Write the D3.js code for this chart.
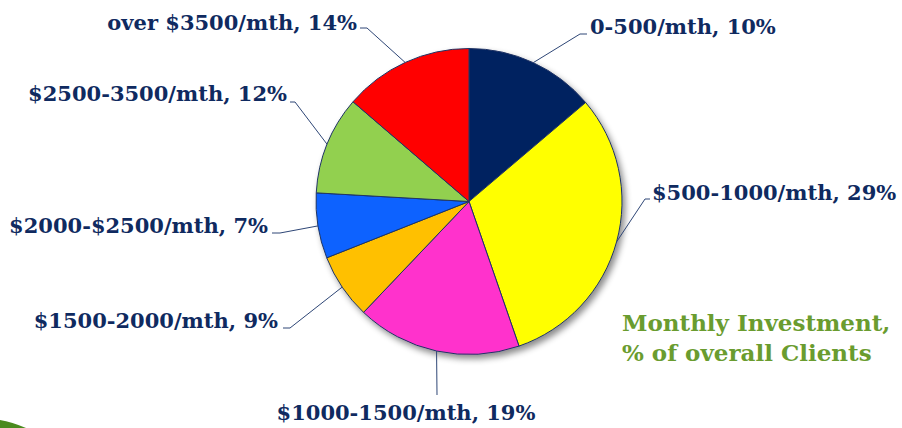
<!DOCTYPE html>
<html>
<head>
<meta charset="utf-8">
<script src="https://cdn.jsdelivr.net/npm/d3@7"></script>
<style>
  html, body { margin: 0; padding: 0; background: #ffffff; }
  svg { display: block; }
</style>
</head>
<body>
<script>
// ---- data ----
const categories = ["0-500/mth", "$500-1000/mth", "$1000-1500/mth", "$1500-2000/mth",
                    "$2000-$2500/mth", "$2500-3500/mth", "over $3500/mth"];
const sliceValues = [13.8, 30.9, 17.4, 6.9, 6.9, 10.4, 13.7];   // drawn slice sizes
const labelPercents = [10, 29, 19, 9, 7, 12, 14];                // percentages printed in labels
const sliceColors = ["#002060", "#FFFF00", "#FF33CC", "#FFC000", "#0862FF", "#92D050", "#FF0000"];
const titleLines = ["Monthly Investment,", "% of overall Clients"];

// ---- layout (label anchors and leader knees) ----
const labelLayout = [
  { x: 590, y: 34,  anchor: "start",  knee: [580, 34],  end: [587, 34] },
  { x: 652, y: 200, anchor: "start",  knee: [645, 199], end: [650, 199] },
  { x: 406, y: 420, anchor: "middle", knee: null,       end: [437, 395] },
  { x: 278, y: 328, anchor: "end",    knee: [290, 328], end: [283, 328] },
  { x: 268, y: 233, anchor: "end",    knee: [280, 233], end: [272, 233] },
  { x: 287, y: 101, anchor: "end",    knee: [295, 102], end: [290, 102] },
  { x: 357, y: 30,  anchor: "end",    knee: [367, 28],  end: [360, 28] }
];

const W = 902, H = 428;
const cx = 469, cy = 201.5, R = 153;

const svg = d3.select("body").append("svg").attr("width", W).attr("height", H);

const defs = svg.append("defs");
const f = defs.append("filter").attr("id", "shadow")
  .attr("x", "-20%").attr("y", "-20%").attr("width", "140%").attr("height", "140%");
f.append("feDropShadow").attr("dx", 3).attr("dy", 4).attr("stdDeviation", 3)
  .attr("flood-color", "#000").attr("flood-opacity", 0.45);

// green decoration bottom-left
svg.append("path")
  .attr("d", "M0,420 Q12,422 26,428 L0,428 Z")
  .attr("fill", "#4a8a1e");

const pie = d3.pie().sort(null).value(d => d);
const arcs = pie(sliceValues);
const arcGen = d3.arc().innerRadius(0).outerRadius(R);

const g = svg.append("g").attr("transform", `translate(${cx},${cy})`);
const pieG = g.append("g").attr("filter", "url(#shadow)");
pieG.selectAll("path").data(arcs).join("path")
  .attr("d", arcGen)
  .attr("fill", (d, i) => sliceColors[i])
  .attr("stroke", "#1F3464")
  .attr("stroke-width", 1)
  .attr("stroke-linejoin", "round");

// leader lines
arcs.forEach((a, i) => {
  const mid = (a.startAngle + a.endAngle) / 2;
  const px = cx + R * Math.sin(mid), py = cy - R * Math.cos(mid);
  const L = labelLayout[i];
  const pts = [[px, py]];
  if (L.knee) pts.push(L.knee);
  pts.push(L.end);
  svg.append("path")
    .attr("d", d3.line()(pts))
    .attr("fill", "none")
    .attr("stroke", "#2E4676")
    .attr("stroke-width", 1);
});

// labels
svg.selectAll("text.lbl").data(categories).join("text")
  .attr("class", "lbl")
  .attr("x", (d, i) => labelLayout[i].x)
  .attr("y", (d, i) => labelLayout[i].y)
  .attr("text-anchor", (d, i) => labelLayout[i].anchor)
  .attr("font-family", "'DejaVu Serif', serif")
  .attr("font-weight", "bold")
  .attr("font-size", 21)
  .attr("fill", "#0F2A60")
  .text((d, i) => `${d}, ${labelPercents[i]}%`);

// title
svg.selectAll("text.ttl").data(titleLines).join("text")
  .attr("class", "ttl")
  .attr("x", 622)
  .attr("y", (d, i) => 331 + i * 30)
  .attr("font-family", "'DejaVu Serif', serif")
  .attr("font-weight", "bold")
  .attr("font-size", 23)
  .attr("fill", "#6A9C2F")
  .text(d => d);
</script>
</body>
</html>
